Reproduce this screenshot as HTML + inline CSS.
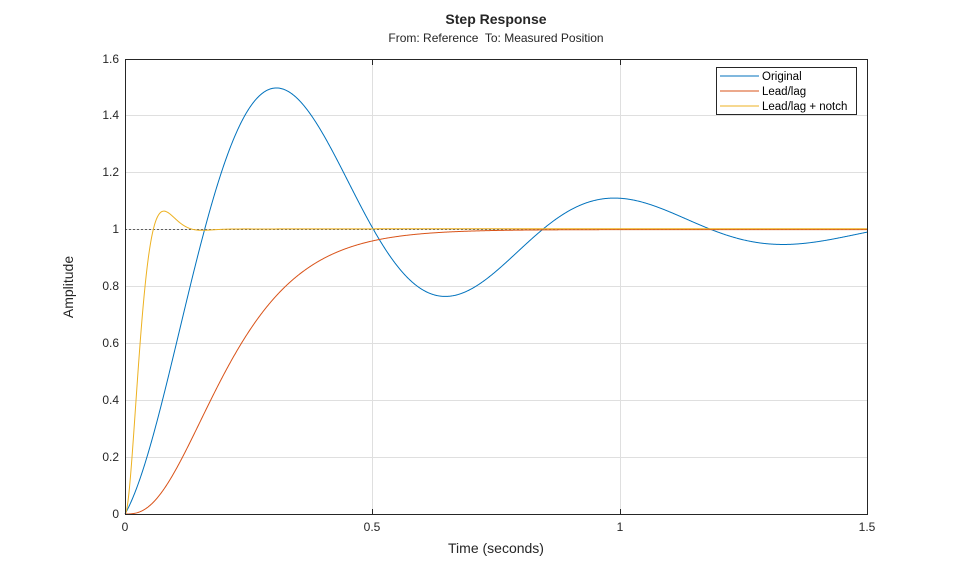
<!DOCTYPE html>
<html><head><meta charset="utf-8"><style>
body{margin:0;background:#fff;}
svg{display:block;font-family:"Liberation Sans",sans-serif;}
</style></head><body>
<svg id="s" width="959" height="577" xmlns="http://www.w3.org/2000/svg">
<rect width="959" height="577" fill="#fff"/>
<g stroke="#dfdfdf" stroke-width="1">
<line x1="372.5" y1="59" x2="372.5" y2="514"/>
<line x1="620.5" y1="59" x2="620.5" y2="514"/>
<line x1="125" y1="457.5" x2="867" y2="457.5"/>
<line x1="125" y1="400.5" x2="867" y2="400.5"/>
<line x1="125" y1="343.5" x2="867" y2="343.5"/>
<line x1="125" y1="286.5" x2="867" y2="286.5"/>
<line x1="125" y1="229.5" x2="867" y2="229.5"/>
<line x1="125" y1="172.5" x2="867" y2="172.5"/>
<line x1="125" y1="115.5" x2="867" y2="115.5"/>
</g>
<line x1="125" y1="229.5" x2="867" y2="229.5" stroke="#333" stroke-width="0.8" stroke-dasharray="2,2"/>
<g id="curves" fill="none" stroke-width="1"></g>
<rect x="125.5" y="59.5" width="742" height="455" fill="none" stroke="#262626" stroke-width="1"/>
<g stroke="#262626">
<line x1="372.5" y1="514" x2="372.5" y2="509"/><line x1="620.5" y1="514" x2="620.5" y2="509"/>
<line x1="372.5" y1="60" x2="372.5" y2="65"/><line x1="620.5" y1="60" x2="620.5" y2="65"/>
</g>
<g font-size="12" fill="#262626" text-anchor="end">
<text x="119" y="518">0</text><text x="119" y="461">0.2</text><text x="119" y="404">0.4</text>
<text x="119" y="347">0.6</text><text x="119" y="290">0.8</text><text x="119" y="233">1</text>
<text x="119" y="176">1.2</text><text x="119" y="119">1.4</text><text x="119" y="63">1.6</text>
</g>
<g font-size="12" fill="#262626" text-anchor="middle">
<text x="125" y="531">0</text><text x="372" y="531">0.5</text><text x="620" y="531">1</text><text x="867" y="531">1.5</text>
<text x="496" y="553" font-size="14">Time (seconds)</text>
<text x="496" y="24" font-size="14" font-weight="bold">Step Response</text>
<text x="496" y="42" font-size="12">From: Reference&#160; To: Measured Position</text>
<text transform="translate(73,287) rotate(-90)" font-size="14">Amplitude</text>
</g>
<rect x="716.5" y="67.5" width="140" height="47" fill="#fff" stroke="#262626"/>
<g font-size="11.5" fill="#000">
<line x1="720" y1="76" x2="759" y2="76" stroke="#0072bd"/><text x="762" y="80">Original</text>
<line x1="720" y1="91" x2="759" y2="91" stroke="#d95319"/><text x="762" y="95">Lead/lag</text>
<line x1="720" y1="106" x2="759" y2="106" stroke="#edb120"/><text x="762" y="110">Lead/lag + notch</text>
</g>
</svg>
<script>
function X(t){return 125+t*494.67;}function Y(v){return 514-v*284.4;}
function so(s,w,t){return 1-Math.exp(-s*t)*(Math.cos(w*t)+s/w*Math.sin(w*t));}
var fs=[
[function(t){return so(2.2,9.2,t)+0.33*Math.exp(-2.2*t)*Math.sin(9.2*t);},"#0072bd"],
[function(t){var a=13.2*t;return 1-Math.exp(-a)*(1+a+a*a/2);},"#d95319"],
[function(t){return so(35,40,t)+0.003*(1-Math.exp(-5*t));},"#edb120"]];
var g=document.getElementById("curves"),h="";
fs.forEach(function(f){var d="";for(var i=0;i<=1500;i++){var t=i/1000;d+=(i?"L":"M")+X(t).toFixed(2)+","+Y(f[0](t)).toFixed(2);}h+='<path d="'+d+'" stroke="'+f[1]+'"/>';});
g.innerHTML=h;
</script>
</body></html>
